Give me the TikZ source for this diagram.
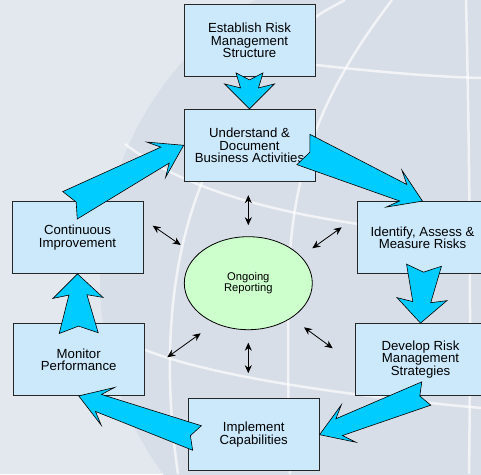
\documentclass[tikz,border=0pt]{standalone}
\usepackage{fontspec}
\setmainfont{Liberation Sans}
\usetikzlibrary{arrows.meta, calc, shapes.geometric}
\definecolor{bglight}{RGB}{227,231,238}
\definecolor{bgdark}{RGB}{216,222,231}
\definecolor{boxblue}{RGB}{204,233,252}
\definecolor{repgreen}{RGB}{204,255,204}
\definecolor{arrowcyan}{RGB}{0,204,255}

\tikzset{
    stepbox/.style={draw=black!85, line width=0.8pt, fill=boxblue, minimum width=131pt, minimum height=72pt,
        align=center, inner sep=2pt, font=\fontsize{13.2}{12.4}\selectfont},
    fatarrow/.style={fill=arrowcyan, draw=black, line width=0.6pt, line join=miter},
    dblarrow/.style={{Stealth[length=8pt,width=7pt]}-{Stealth[length=8pt,width=7pt]}, line width=0.8pt},
    globeline/.style={white, line width=2.5pt, opacity=0.65}
}

% #1 tail half width, #2 barb half width, #3 barb distance from tip, #4 tail, #5 tip
\newcommand{\fatarrow}[5]{%
    \filldraw[fatarrow]
        ($(#4)!#1pt!90:(#5)$) -- ($(#5)!21pt!(#4)!9pt!-90:(#4)$) -- ($(#5)!#3pt!(#4)!#2pt!-90:(#4)$)
        -- (#5) -- ($(#5)!#3pt!(#4)!#2pt!90:(#4)$) -- ($(#5)!21pt!(#4)!9pt!90:(#4)$)
        -- ($(#4)!#1pt!-90:(#5)$) -- ($(#4)!7pt!(#5)$) -- cycle;}

\begin{document}
\begin{tikzpicture}[x=1pt, y=1pt]
    \useasboundingbox (0,0) rectangle (481,474);
    % background globe
    \begin{scope}
        \clip (0,0) rectangle (481,474);
        \fill[bglight] (0,0) rectangle (481,474);
        \fill[bgdark] (430,194) circle (330pt);
        \draw[globeline] (240,418) .. controls (330,407) and (410,398) .. (481,396);
        \draw[globeline] (125,330) .. controls (190,280) and (300,250) .. (481,237);
        \draw[globeline] (138,127) .. controls (200,100) and (330,80) .. (481,66);
        \draw[globeline] (300,440) .. controls (315,458) .. (345,474);
        \draw[globeline] (392,474) .. controls (320,380) and (288,300) .. (288,170) .. controls (288,90) .. (290,0);
        \draw[globeline] (210,310) .. controls (168,220) and (162,110) .. (178,0);
        \draw[globeline] (466,474) .. controls (470,300) and (471,150) .. (469,0);
    \end{scope}

    \node[stepbox] (est) at (249.5,433.5) {Establish Risk\\Management\\Structure};
    \node[stepbox] (und) at (249.5,328.7) {Understand \&\\Document\\Business Activities};
    \node[stepbox] (ide) at (422.5,236.5) {Identify, Assess \&\\Measure Risks};
    \node[stepbox] (dev) at (420.5,114.5) {Develop Risk\\Management\\Strategies};
    \node[stepbox] (imp) at (253.7,39.3) {Implement\\Capabilities};
    \node[stepbox] (mon) at (78.7,114.5) {Monitor\\Performance};
    \node[stepbox] (con) at (77.5,236.5) {Continuous\\Improvement};
    \node[ellipse, draw=black, line width=0.8pt, fill=repgreen, minimum width=128pt, minimum height=93pt,
        inner sep=0pt, align=center, font=\fontsize{11.2}{10.4}\selectfont] (rep) at (248.3,190.8) {Ongoing\\Reporting};

    % reporting links
    \draw[dblarrow] ($(rep)+(0,58)$) -- ($(rep)+(0,88)$);
    \draw[dblarrow] ($(rep)+(-67.6,38.2)$) -- ($(rep)+(-95.6,57.5)$);
    \draw[dblarrow] ($(rep)+(64,34.9)$) -- ($(rep)+(93.4,55.9)$);
    \draw[dblarrow] ($(rep)+(-47.6,-50.1)$) -- ($(rep)+(-81,-74.1)$);
    \draw[dblarrow] ($(rep)+(0,-59.5)$) -- ($(rep)+(0,-90)$);
    \draw[dblarrow] ($(rep)+(55.7,-44.1)$) -- ($(rep)+(84.4,-65.1)$);

    % cycle arrows
    \coordinate (t1) at ($(est.south)+(0,4)$);
    \coordinate (t2) at ($(und.east)+(-12,-4.2)$);
    \coordinate (t3) at ($(ide.south)+(1.5,8.7)$);
    \coordinate (t4) at ($(dev.south)+(5.8,2.4)$);
    \coordinate (t5) at ($(imp.west)+(9.2,-3.3)$);
    \coordinate (t6) at ($(con.north)+(-7.5,-4.2)$);
    \coordinate (t7) at ($(mon.north)+(0,-10)$);
    \fatarrow{13.5}{25}{25}{t1}{und.north}
    \fatarrow{16.5}{20}{31}{t2}{ide.north}
    \fatarrow{17.5}{25}{24}{t3}{dev.north}
    \fatarrow{12.5}{20}{31}{t4}{imp.east}
    \fatarrow{13}{20}{31}{t5}{mon.south}
    \fatarrow{15.5}{20}{31}{t6}{und.west}
    \fatarrow{19.5}{25}{24}{t7}{con.south}
\end{tikzpicture}
\end{document}
